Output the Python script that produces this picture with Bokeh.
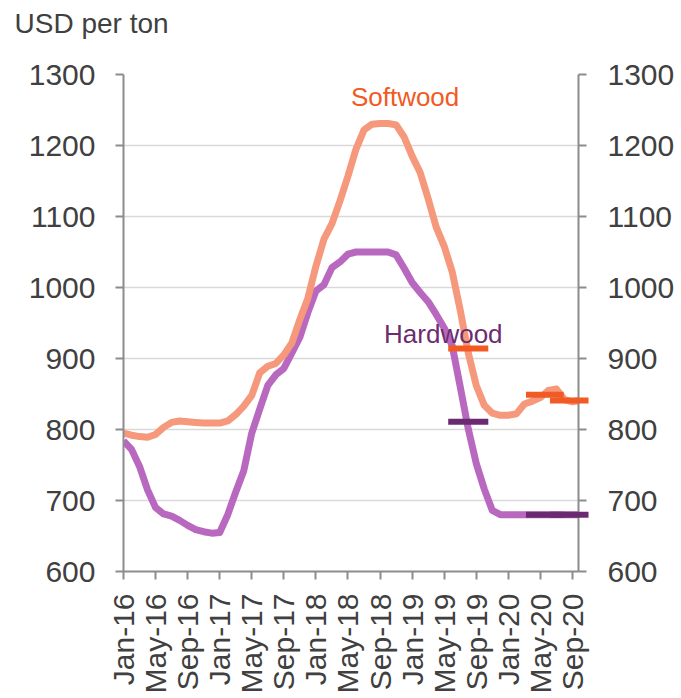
from bokeh.plotting import figure
from bokeh.models import FixedTicker, LinearAxis, Range1d, Label
from bokeh.core.properties import value
from bokeh.embed import file_html
from bokeh.resources import INLINE
import math

# ---- data ----
months = list(range(58))  # Jan-16 .. Oct-20 (month index)
softwood = [795, 792, 790, 789, 793, 803, 810, 812, 811, 810, 809, 809, 809, 812, 821,
            833, 848, 880, 889, 893, 905, 922, 955, 985, 1030, 1068, 1090, 1122, 1157,
            1195, 1222, 1230, 1231, 1231, 1229, 1212, 1185, 1162, 1125, 1085, 1058, 1022,
            968, 908, 862, 834, 823, 820, 820, 822, 836, 840, 845, 855, 857, 842, 839, 841]
hardwood = [784, 772, 748, 715, 690, 681, 678, 672, 665, 659, 656, 654, 655, 680, 712,
            742, 795, 829, 862, 877, 886, 908, 930, 965, 995, 1004, 1028, 1036, 1047,
            1050, 1050, 1050, 1050, 1050, 1046, 1027, 1007, 993, 980, 962, 943, 918,
            860, 801, 752, 716, 686, 680, 680, 680, 680, 680, 680, 680, 680, 680, 680, 680]

sw_fc_start = [40.5, 50.2, 53.2]
sw_fc_end = [45.5, 54.9, 58.0]
sw_fc_value = [914, 849, 841]
hw_fc_start = [40.5, 50.2, 53.2]
hw_fc_end = [45.5, 54.9, 58.0]
hw_fc_value = [811, 680, 680]

tick_months = [0, 4, 8, 12, 16, 20, 24, 28, 32, 36, 40, 44, 48, 52, 56]
tick_labels = ["Jan-16", "May-16", "Sep-16", "Jan-17", "May-17", "Sep-17", "Jan-18",
               "May-18", "Sep-18", "Jan-19", "May-19", "Sep-19", "Jan-20", "May-20", "Sep-20"]
y_ticks = [600, 700, 800, 900, 1000, 1100, 1200, 1300]
unit_title = "USD per ton"

FONT = "Liberation Sans"
TXT = "#404040"
AX = "#8c8c8c"

p = figure(width=681, height=698, output_backend="svg", toolbar_location=None,
           x_range=Range1d(0, 56.75), y_range=Range1d(600, 1300),
           min_border_left=123, min_border_right=103, min_border_top=74, min_border_bottom=127)
p.outline_line_color = None
p.background_fill_color = "white"
p.border_fill_color = "white"

p.xgrid.grid_line_color = None
p.ygrid.grid_line_color = "#d9d9d9"
p.ygrid.grid_line_width = 1.5
p.ygrid.ticker = FixedTicker(ticks=y_ticks)

# bottom axis
xa = p.xaxis[0]
xa.ticker = FixedTicker(ticks=tick_months)
xa.major_label_overrides = {m: l for m, l in zip(tick_months, tick_labels)}
xa.major_label_orientation = math.pi / 2
xa.major_label_text_font = FONT
xa.major_label_text_font_size = "30px"
xa.major_label_text_color = TXT
xa.major_label_standoff = 14
xa.major_tick_out = 8
xa.major_tick_in = 0
xa.minor_tick_out = 0
xa.minor_tick_in = 0
xa.axis_line_color = AX
xa.axis_line_width = 2
xa.major_tick_line_color = AX
xa.major_tick_line_width = 2

def style_y(ax, standoff):
    ax.ticker = FixedTicker(ticks=y_ticks)
    ax.major_label_text_font = FONT
    ax.major_label_text_font_size = "30px"
    ax.major_label_text_color = TXT
    ax.major_label_standoff = standoff
    ax.major_tick_out = 8
    ax.major_tick_in = 0
    ax.minor_tick_out = 0
    ax.minor_tick_in = 0
    ax.axis_line_color = AX
    ax.axis_line_width = 2
    ax.major_tick_line_color = AX
    ax.major_tick_line_width = 2

style_y(p.yaxis[0], 20)
ra = LinearAxis()
style_y(ra, 21)
p.add_layout(ra, "right")

# lines
p.line(months, hardwood, line_color="#b968bf", line_width=7, line_join="round")
p.line(months, softwood, line_color="#f5987b", line_width=7, line_join="round")

# forecast markers
p.segment(x0=sw_fc_start, x1=sw_fc_end, y0=sw_fc_value, y1=sw_fc_value,
          line_color="#f15a24", line_width=6, level="overlay")
p.segment(x0=hw_fc_start, x1=hw_fc_end, y0=hw_fc_value, y1=hw_fc_value,
          line_color="#6b2a6f", line_width=6, level="overlay")

# labels
p.add_layout(Label(x=28.36, y=1268.5, text="Softwood", text_font=FONT,
                   text_font_size="26px", text_color="#f15a24",
                   text_baseline="alphabetic"))
p.add_layout(Label(x=32.5, y=934, text="Hardwood", text_font=FONT,
                   text_font_size="26px", text_color="#6b2d6f",
                   text_baseline="alphabetic"))

# unit title (top-left, outside the frame)
p.text(x=[0], y=[1300], text=[unit_title], x_offset=-109, y_offset=-51,
       text_font=value(FONT), text_font_size="28px", text_color=TXT,
       text_baseline="alphabetic", text_align="left", level="overlay")

open("out.html", "w").write(file_html(p, INLINE))
